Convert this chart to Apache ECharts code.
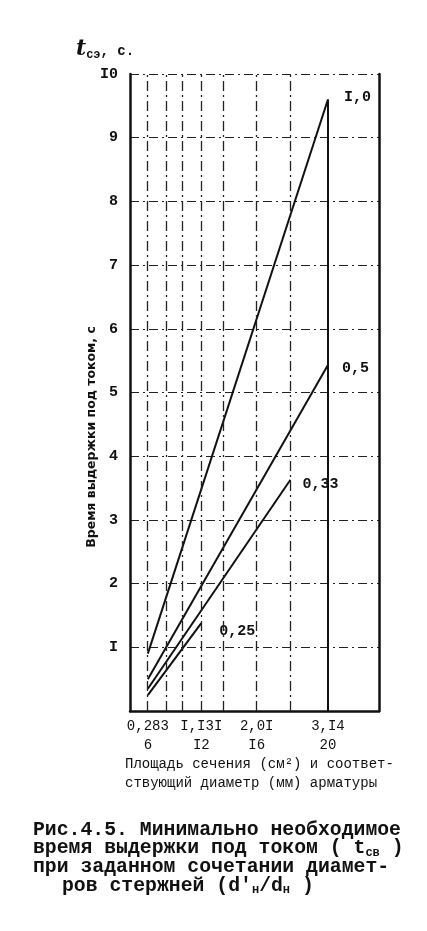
<!DOCTYPE html>
<html><head><meta charset="utf-8">
<script src="https://cdn.jsdelivr.net/npm/echarts@6/dist/echarts.min.js"></script>
<style>html,body{margin:0;padding:0;background:#fff}#c{width:427px;height:931px}</style>
</head><body><div id="c"></div>
<script>
// Series: minimal holding time (s) vs rebar cross-section area (cm²)
const series10  = [[0.283, 0.9],  [3.14, 9.6]];
const series05  = [[0.283, 0.5],  [3.14, 5.43]];
const series033 = [[0.283, 0.35], [2.545, 3.63]];
const series025 = [[0.283, 0.25], [1.131, 1.38]];
const seriesNames = ['I,0', '0,5', '0,33', '0,25'];

// x tick labels: area (cm²) and diameter (mm)
const xTickValues = [0.283, 1.131, 2.01, 3.14];
const xTickArea   = ['0,283', 'I,I3I', '2,0I', '3,I4'];
const xTickDiam   = ['6', 'I2', 'I6', '20'];
// y tick labels as typed in the source
const yTickLabels = ['', 'I', '2', '3', '4', '5', '6', '7', '8', '9', 'I0'];
// vertical grid lines (rebar areas)
const xGridValues = [0.283, 0.57, 0.83, 1.131, 1.48, 2.01, 2.545];
const xGridSolid  = [3.14];

const chart = echarts.init(document.getElementById('c'), null, {renderer: 'canvas'});
const ink = '#111';
const mono = '"Liberation Mono", "DejaVu Sans Mono", monospace';

function lineSeries(name, data, off) {
  return {
    name: name, type: 'line', data: data, symbol: 'none', silent: true,
    lineStyle: {color: ink, width: 2},
    endLabel: {show: true, formatter: name, color: ink, fontFamily: mono,
               fontSize: 15, fontWeight: 'bold', offset: off}
  };
}

const gridLineData = xGridValues.map(v => ({xAxis: v}));
const solidLineData = xGridSolid.map(v => [{xAxis: v, yAxis: 9.6}, {xAxis: v, yAxis: 0}]);

chart.setOption({
  backgroundColor: '#fff',
  animation: false,
  grid: {left: 130, right: 48, top: 74, bottom: 220},
  xAxis: {
    type: 'value', min: 0, max: 3.95,
    axisLine: {show: true, lineStyle: {color: ink, width: 2.5}},
    axisTick: {show: false},
    splitLine: {show: false},
    axisLabel: {
      customValues: xTickValues, margin: 6, color: ink, fontFamily: mono,
      fontSize: 14, lineHeight: 19,
      formatter: function (v) {
        const i = xTickValues.findIndex(x => Math.abs(x - v) < 1e-6);
        return i < 0 ? '' : xTickArea[i] + '\n' + xTickDiam[i];
      }
    }
  },
  yAxis: [{
    type: 'value', min: 0, max: 10, interval: 1,
    axisLine: {show: true, lineStyle: {color: ink, width: 2.5}},
    axisTick: {show: false},
    splitLine: {show: true, lineStyle: {color: '#222', width: 1.2, type: [9, 4, 2, 4]}},
    axisLabel: {
      margin: 12, color: ink, fontFamily: mono, fontSize: 15, fontWeight: 'bold',
      formatter: function (v) { return yTickLabels[Math.round(v)] || ''; }
    }
  }, {
    type: 'value', min: 0, max: 10, position: 'right',
    axisLine: {show: true, lineStyle: {color: ink, width: 2.5}},
    axisTick: {show: false}, axisLabel: {show: false}, splitLine: {show: false}
  }],
  series: [
    {
      type: 'line', data: [], silent: true,
      markLine: {
        silent: true, symbol: 'none', label: {show: false},
        lineStyle: {color: '#222', width: 1.3, type: [10, 4, 2, 4]},
        data: gridLineData
      }
    },
    {
      type: 'line', data: [], silent: true,
      markLine: {
        silent: true, symbol: 'none', label: {show: false},
        lineStyle: {color: ink, width: 2, type: 'solid'},
        data: solidLineData
      }
    },
    lineSeries(seriesNames[0], series10, [8, -2]),
    lineSeries(seriesNames[1], series05, [6, 3]),
    lineSeries(seriesNames[2], series033, [4, 4]),
    lineSeries(seriesNames[3], series025, [10, 8])
  ],
  graphic: [
    {
      type: 'text', left: 76, top: 38,
      style: {
        text: '{t|t}{s|сэ}{n|, с.}',
        rich: {
          t: {fontFamily: '"DejaVu Serif", serif', fontStyle: 'italic', fontSize: 22, fill: ink, fontWeight: 'bold'},
          s: {fontFamily: mono, fontSize: 12, fontWeight: 'bold', fill: ink, padding: [12, 0, 0, 0]},
          n: {fontFamily: mono, fontSize: 14, fontWeight: 'bold', fill: ink, padding: [4, 0, 0, 0]}
        }
      }
    },
    {
      type: 'text', x: 92, y: 437, rotation: Math.PI / 2,
      style: {
        text: 'Время выдержки под током, с',
        fontFamily: '"DejaVu Sans", sans-serif', fontSize: 12.5, fontWeight: 'bold',
        fill: ink, align: 'center', verticalAlign: 'middle'
      }
    },
    {
      type: 'text', left: 125, top: 755,
      style: {
        text: 'Площадь сечения (см²) и соответ-\nствующий диаметр (мм) арматуры',
        fontFamily: mono, fontSize: 14, lineHeight: 19, fill: ink
      }
    },
    {
      type: 'text', left: 33, top: 820,
      style: {
        text: 'Рис.4.5. Минимально необходимое\nвремя выдержки под током ( t{sub|св} )\nпри заданном сочетании диамет-',
        fontFamily: mono, fontSize: 19.8, fontWeight: 'bold', lineHeight: 18.5, fill: ink,
        rich: {sub: {fontFamily: mono, fontSize: 12, fontWeight: 'bold', fill: ink, padding: [8, 0, 0, 0]}}
      }
    },
    {
      type: 'text', left: 62, top: 876,
      style: {
        text: 'ров стержней (d\'{sub|н}/d{sub|н} )',
        fontFamily: mono, fontSize: 19.8, fontWeight: 'bold', lineHeight: 18.5, fill: ink,
        rich: {sub: {fontFamily: mono, fontSize: 12, fontWeight: 'bold', fill: ink, padding: [8, 0, 0, 0]}}
      }
    }
  ]
});
</script></body></html>
